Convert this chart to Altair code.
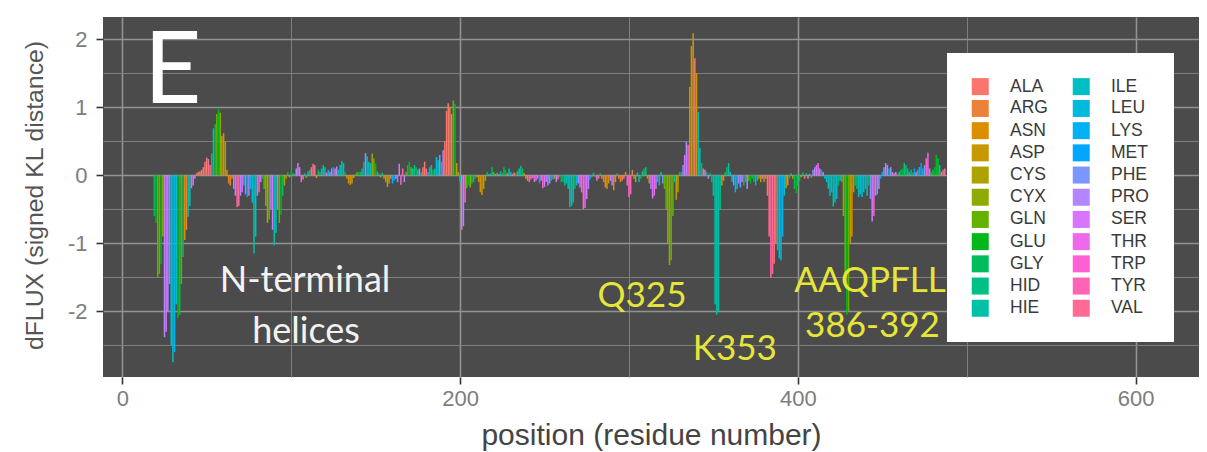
import math
import altair as alt
import pandas as pd

# ---------------- data ----------------
AA = ["ALA", "ARG", "ASN", "ASP", "CYS", "CYX", "GLN", "GLU", "GLY", "HID", "HIE",
      "ILE", "LEU", "LYS", "MET", "PHE", "PRO", "SER", "THR", "TRP", "TYR", "VAL"]

# residues 19-99 (N-terminal helices)
seg_a_start = 19
seg_a_val = [-0.6, -0.7, -1.5, -1.45, -1.3, -0.9, -2.38, -2.3, -2.0, -1.6,
             -2.5, -2.75, -2.6, -1.9, -2.1, -2.05, -1.6, -1.2, -0.95, -0.8,
             -0.61, -0.45, -0.19, -0.15, -0.05, 0.03, 0.05, 0.06, 0.08, 0.12,
             0.2, 0.26, 0.24, 0.15, 0.32, 0.69, 0.75, 0.9, 0.98, 0.92,
             0.58, 0.62, 0.5, 0.08, -0.12, -0.15, -0.05, -0.2, -0.3, -0.47,
             -0.45, -0.3, -0.25, -0.15, -0.28, -0.32, -0.3, -0.2, -0.4, -1.15,
             -0.9, -0.3, -0.25, -0.1, -0.05, -0.2, -0.45, -0.7, -0.65, -0.5,
             -0.8, -1.03, -0.85, -0.5, -0.7, -0.58, -0.3, -0.15, -0.05, 0.04,
             -0.03]
seg_a_aa = ["GLY", "GLU", "GLN", "GLN", "GLU", "CYX", "PRO", "SER", "PRO", "PHE",
            "LEU", "ILE", "LYS", "ILE", "GLU", "GLY", "GLN", "GLY", "ASN", "ARG",
            "HIE", "ILE", "TRP", "SER", "PRO", "ALA", "ARG", "ALA", "VAL", "ALA",
            "ALA", "ALA", "VAL", "ALA", "HID", "HIE", "GLY", "GLN", "GLU", "CYX",
            "ASP", "ASN", "CYS", "ASN", "ASN", "ARG", "ASP", "SER", "PRO", "TYR",
            "VAL", "PRO", "SER", "ILE", "PHE", "MET", "PRO", "LYS", "LEU", "HIE",
            "ILE", "PHE", "TRP", "SER", "GLY", "GLN", "CYX", "CYS", "GLN", "PRO",
            "SER", "HIE", "ILE", "TYR", "GLN", "GLU", "GLY", "ASP", "CYX", "GLY",
            "ASN"]

# residues 100-199
seg_b_start = 100
seg_b_val = [0.06, 0.03, 0.02, 0.1, 0.18, 0.12, -0.1, -0.06, 0.03, -0.04,
             0.06, 0.08, 0.12, 0.17, 0.15, -0.04, 0.08, 0.05, 0.1, 0.15,
             0.12, 0.04, 0.08, 0.05, 0.1, 0.12, 0.1, 0.13, 0.08, 0.15,
             0.21, 0.18, 0.05, -0.05, -0.12, -0.14, -0.12, -0.04, 0.02, 0.05,
             0.05, 0.05, 0.1, 0.2, 0.33, 0.28, 0.2, 0.18, 0.32, 0.25,
             0.17, 0.06, 0.03, -0.03, 0.04, -0.05, -0.1, -0.17, -0.12, -0.05,
             -0.12, -0.08, -0.05, -0.1, 0.17, -0.14, 0.1, -0.1, 0.05, 0.15,
             0.2, 0.12, 0.1, 0.15, 0.12, 0.08, 0.1, 0.05, 0.12, 0.2,
             0.1, 0.05, 0.12, 0.15, 0.08, 0.1, 0.27, 0.22, 0.3, 0.2,
             0.37, 0.5, 0.95, 1.06, 1.0, 0.9, 1.1, 1.05, 0.18, 0.05]
seg_b_aa = ["GLU", "HID", "GLY", "PRO", "SER", "PRO", "TYR", "THR", "HIE", "GLN",
            "LEU", "GLY", "ALA", "ALA", "VAL", "ARG", "GLY", "HID", "HIE", "ILE",
            "HIE", "TRP", "LEU", "PHE", "PRO", "MET", "SER", "PRO", "HID", "ILE",
            "HIE", "ILE", "GLY", "ASN", "ASP", "ASN", "ASP", "ARG", "GLY", "GLN",
            "GLU", "GLY", "HIE", "GLY", "PHE", "LYS", "HIE", "ILE", "CYX", "GLN",
            "GLU", "HID", "GLY", "CYS", "HIE", "ASP", "ASP", "ASN", "ASP", "ARG",
            "LYS", "MET", "SER", "PHE", "SER", "TRP", "TYR", "PRO", "GLN", "GLY",
            "GLU", "GLN", "HIE", "HID", "GLY", "LEU", "SER", "GLY", "ALA", "ALA",
            "VAL", "HIE", "ILE", "HIE", "GLY", "HID", "LEU", "ILE", "PHE", "HIE",
            "PRO", "ALA", "ALA", "ALA", "ARG", "ALA", "GLN", "GLU", "ASP", "CYS"]

# residues 200-299
seg_c_start = 200
seg_c_val = [-0.1, -0.8, -0.75, -0.4, -0.19, -0.15, -0.18, -0.12, -0.1, -0.05,
             -0.03, -0.1, -0.25, -0.29, -0.2, -0.08, 0.05, 0.02, 0.03, 0.12,
             0.05, 0.02, 0.04, 0.02, 0.06, 0.03, 0.12, 0.08, 0.03, 0.1,
             0.05, 0.02, 0.04, 0.03, 0.06, 0.1, 0.14, 0.1, 0.03, -0.05,
             -0.08, -0.1, -0.06, -0.04, -0.1, -0.08, -0.05, -0.12, -0.08, -0.19,
             -0.17, -0.1, -0.15, -0.12, -0.08, -0.06, -0.05, -0.1, -0.06, -0.03,
             -0.1, -0.1, -0.15, -0.12, -0.2, -0.47, -0.45, -0.4, -0.2, -0.15,
             -0.12, -0.18, -0.25, -0.5, -0.48, -0.35, -0.2, -0.06, -0.03, 0.04,
             -0.03, -0.08, -0.05, 0.03, -0.05, -0.1, -0.18, -0.2, -0.12, -0.08,
             -0.15, -0.22, -0.1, 0.03, -0.05, -0.1, -0.08, -0.05, 0.05, -0.15]
seg_c_aa = ["HIE", "SER", "PRO", "TRP", "GLN", "GLU", "CYX", "GLY", "HID", "GLY",
            "ASN", "ASP", "ASN", "ASP", "CYS", "ASN", "GLY", "HID", "ILE", "GLY",
            "GLN", "ASN", "HIE", "SER", "HID", "GLY", "GLY", "GLU", "ALA", "HIE",
            "LEU", "THR", "ASN", "GLY", "ILE", "HIE", "HID", "GLY", "ASP", "ARG",
            "ALA", "TYR", "VAL", "SER", "TRP", "THR", "PHE", "MET", "PRO", "TRP",
            "SER", "PRO", "PHE", "THR", "MET", "LYS", "ASP", "PRO", "TYR", "GLY",
            "GLY", "GLY", "HID", "LEU", "HIE", "HIE", "ILE", "HIE", "GLY", "LEU",
            "PRO", "SER", "THR", "TRP", "THR", "SER", "PRO", "LYS", "GLN", "HID",
            "GLY", "THR", "VAL", "GLY", "ARG", "ASN", "ARG", "ASN", "ASP", "SER",
            "PRO", "ASN", "ARG", "GLY", "ALA", "ASN", "ALA", "VAL", "ASN", "TYR"]

# residues 300-399
seg_d_start = 300
seg_d_val = [-0.32, -0.28, 0.08, -0.05, -0.1, 0.04, -0.1, -0.05, 0.06, 0.1,
             0.12, -0.05, -0.12, -0.2, -0.34, -0.3, -0.2, -0.1, -0.15, 0.05,
             -0.12, -0.2, -0.5, -1.0, -1.32, -1.25, -0.6, -0.1, -0.36, -0.25,
             0.05, 0.05, 0.15, 0.3, 0.49, 0.45, 1.3, 1.9, 2.09, 1.72,
             1.5, 0.93, 0.4, 0.18, 0.1, 0.08, 0.05, -0.05, 0.03, -0.1,
             -0.3, -1.9, -2.05, -2.0, -0.5, -0.15, -0.08, 0.05, 0.12, 0.18,
             0.05, -0.1, -0.15, -0.25, -0.2, -0.12, -0.18, -0.1, -0.15, -0.1,
             -0.2, -0.08, -0.12, -0.05, -0.1, -0.15, -0.08, -0.05, -0.1, -0.05,
             -0.1, -0.05, -0.3, -0.9, -1.51, -1.45, -1.3, -1.0, -1.1, -1.22,
             -1.25, -0.9, -0.3, -0.19, -0.15, -0.05, 0.03, -0.05, -0.2, -0.26]
seg_d_aa = ["TRP", "TYR", "ARG", "ASP", "CYS", "ILE", "LEU", "GLY", "HIE", "GLY",
            "HID", "ASP", "ASN", "PRO", "SER", "THR", "PRO", "ILE", "LEU", "HIE",
            "PHE", "GLN", "GLN", "CYX", "CYX", "GLN", "GLN", "HIE", "ASP", "CYS",
            "GLY", "GLY", "PHE", "SER", "PRO", "TYR", "ASP", "ASN", "ASP", "ALA",
            "ASP", "ILE", "HIE", "GLY", "TYR", "SER", "GLY", "PRO", "HID", "GLY",
            "HIE", "HIE", "HIE", "HIE", "HID", "ASN", "ARG", "GLY", "GLY", "HIE",
            "ILE", "LEU", "PHE", "LYS", "LEU", "PRO", "PHE", "SER", "GLY", "HID",
            "PRO", "GLN", "GLU", "GLY", "GLY", "HIE", "ILE", "ASP", "ASP", "SER",
            "ASP", "VAL", "ALA", "ALA", "TYR", "VAL", "ALA", "ALA", "ILE", "LEU",
            "LEU", "LYS", "ILE", "ASN", "ARG", "GLY", "HID", "CYS", "GLY", "GLU"]

# residues 400-487
seg_e_start = 400
seg_e_val = [-0.15, -0.08, -0.03, 0.04, -0.05, 0.03, -0.05, 0.02, -0.04, 0.08,
             0.12, 0.15, 0.18, 0.1, 0.08, 0.05, -0.05, -0.1, -0.2, -0.3,
             -0.25, -0.46, -0.4, -0.35, -0.15, -0.08, -0.1, -0.6, -1.6, -2.05,
             -2.0, -0.99, -0.9, -0.25, -0.15, -0.2, -0.32, -0.28, -0.32, -0.25,
             -0.2, -0.3, -0.15, -0.35, -0.68, -0.6, -0.3, -0.28, -0.2, -0.05,
             0.05, 0.12, 0.18, 0.15, 0.1, 0.12, 0.05, 0.03, 0.05, 0.02,
             0.05, 0.08, 0.1, 0.18, 0.15, 0.1, 0.05, 0.08, 0.04, 0.1,
             0.05, 0.08, 0.12, 0.18, 0.1, 0.15, 0.25, 0.33, 0.1, 0.05,
             0.08, 0.12, 0.3, 0.25, 0.15, 0.05, 0.08, 0.1]
seg_e_aa = ["HID", "GLY", "ASP", "GLY", "ARG", "HID", "SER", "PRO", "GLN", "PHE",
            "PRO", "SER", "THR", "PRO", "MET", "SER", "ILE", "LEU", "HIE", "ILE",
            "LEU", "HIE", "ILE", "LEU", "GLY", "LYS", "GLN", "CYX", "GLN", "GLU",
            "GLN", "ASP", "ASN", "CYS", "GLY", "HID", "HIE", "ILE", "LEU", "HIE",
            "LYS", "ILE", "GLY", "PHE", "SER", "TRP", "PRO", "PHE", "PRO", "MET",
            "MET", "PHE", "PRO", "SER", "LYS", "PHE", "PRO", "THR", "TRP", "GLY",
            "HIE", "GLY", "GLU", "HID", "GLY", "HIE", "ILE", "HID", "GLY", "MET",
            "SER", "LEU", "LYS", "MET", "LEU", "PHE", "TRP", "THR", "SER", "GLY",
            "GLY", "GLU", "GLU", "GLY", "HIE", "ALA", "ALA", "VAL"]

# annotations (anchor in residue / dFLUX units)
letter_text = ["E"]
letter_x = [12.8]
letter_y = [1.06]
white_text = ["N-terminal", "helices"]
white_x = [108.2, 108.8]
white_y = [-1.72, -2.46]
yellow_text = ["Q325", "K353", "AAQPFLL", "386-392"]
yellow_x = [307.7, 362.7, 442.7, 444.2]
yellow_y = [-1.94, -2.72, -1.716, -2.38]

# ---------------- build table ----------------
pos, val, aa = [], [], []
for start, vals, names in [(seg_a_start, seg_a_val, seg_a_aa),
                           (seg_b_start, seg_b_val, seg_b_aa),
                           (seg_c_start, seg_c_val, seg_c_aa),
                           (seg_d_start, seg_d_val, seg_d_aa),
                           (seg_e_start, seg_e_val, seg_e_aa)]:
    for i, (v, n) in enumerate(zip(vals, names)):
        pos.append(start + i)
        val.append(v)
        aa.append(n)
df = pd.DataFrame({"pos": pos, "dflux": val, "aa": aa})


# ---------------- ggplot2 default hue palette ----------------
def hcl_hex(h, c=100.0, l=65.0):
    hr = math.radians(h)
    u = c * math.cos(hr)
    v = c * math.sin(hr)
    Xn, Yn, Zn = 95.047, 100.0, 108.883
    den = Xn + 15 * Yn + 3 * Zn
    un, vn = 4 * Xn / den, 9 * Yn / den
    Y = Yn * ((l + 16) / 116) ** 3
    up = u / (13 * l) + un
    vp = v / (13 * l) + vn
    X = 9.0 * Y * up / (4 * vp)
    Z = -X / 3 - 5 * Y + 3 * Y / vp
    X, Y, Z = X / 100, Y / 100, Z / 100
    rgb = [3.240479 * X - 1.537150 * Y - 0.498535 * Z,
           -0.969256 * X + 1.875992 * Y + 0.041556 * Z,
           0.055648 * X - 0.204043 * Y + 1.057311 * Z]
    out = []
    for ch in rgb:
        ch = 12.92 * ch if ch <= 0.0031308 else 1.055 * ch ** (1 / 2.4) - 0.055
        out.append(int(round(min(max(ch, 0.0), 1.0) * 255)))
    return "#%02X%02X%02X" % tuple(out)


n = len(AA)
palette = [hcl_hex(15 + 360.0 * i / n) for i in range(n)]

# ---------------- chart ----------------
XDOM = [-11.4, 637.5]
YDOM = [-2.966, 2.328]
xscale = alt.Scale(domain=XDOM, nice=False, zero=False)
yscale = alt.Scale(domain=YDOM, nice=False, zero=False)

major_x = "datum.value % 200 === 0"
major_y = "datum.value % 1 === 0"

xaxis = alt.Axis(
    title="position (residue number)",
    values=[0, 100, 200, 300, 400, 500, 600],
    labelExpr="datum.value % 200 === 0 ? datum.label : ''",
    labelFlush=False,
    domain=False,
    grid=True,
    gridColor={"condition": {"test": major_x, "value": "#929292"}, "value": "#7e7e7e"},
    gridWidth={"condition": {"test": major_x, "value": 1.6}, "value": 1.0},
    tickColor="#333333",
    tickWidth=1.6,
    tickSize=7,
    tickOpacity={"condition": {"test": major_x, "value": 1}, "value": 0},
    labelFont="Liberation Sans",
    labelFontSize=22,
    labelColor="#7d7d7d",
    labelPadding=4,
    titleFont="Liberation Sans",
    titleFontSize=30,
    titleFontWeight="normal",
    titleColor="#444444",
    titleBaseline="top",
    titleY=43,
)

yaxis = alt.Axis(
    title="dFLUX (signed KL distance)",
    values=[-2.5, -2, -1.5, -1, -0.5, 0, 0.5, 1, 1.5, 2],
    labelExpr="datum.value % 1 === 0 ? (datum.value < 0 ? '-' + abs(datum.value) : '' + datum.value) : ''",
    labelFlush=False,
    domain=False,
    grid=True,
    gridColor={"condition": {"test": major_y, "value": "#929292"}, "value": "#7e7e7e"},
    gridWidth={"condition": {"test": major_y, "value": 1.6}, "value": 1.0},
    tickColor="#333333",
    tickWidth=1.6,
    tickSize=7,
    tickOpacity={"condition": {"test": major_y, "value": 1}, "value": 0},
    labelFont="Liberation Sans",
    labelFontSize=22,
    labelColor="#7d7d7d",
    labelPadding=9,
    titleFont="Liberation Sans",
    titleFontSize=24.8,
    titleFontWeight="normal",
    titleColor="#555555",
    titleAngle=270,
    titleAlign="center",
    titleBaseline="middle",
    titleX=-68,
    titleY=178,
)

legend = alt.Legend(
    title=None,
    orient="none",
    legendX=844,
    legendY=36,
    columns=2,
    symbolType="square",
    symbolSize=289,
    symbolStrokeWidth=0,
    symbolOpacity=1,
    labelFont="Liberation Sans",
    labelFontSize=17.5,
    labelColor="#3a3a3a",
    labelOffset=21,
    padding=24.5,
    rowPadding=3.2,
    columnPadding=24,
    fillColor="#ffffff",
)

bars = alt.Chart(df).transform_calculate(
    x0="datum.pos - 0.45", x1="datum.pos + 0.45", zero="0"
).mark_rect(strokeWidth=0).encode(
    x=alt.X("x0:Q", scale=xscale, axis=xaxis),
    x2="x1:Q",
    y=alt.Y("dflux:Q", scale=yscale, axis=yaxis),
    y2="zero:Q",
    color=alt.Color("aa:N", scale=alt.Scale(domain=AA, range=palette), legend=legend),
)

letter_df = pd.DataFrame({"t": letter_text, "x": letter_x, "y": letter_y})
white_df = pd.DataFrame({"t": white_text, "x": white_x, "y": white_y})
yellow_df = pd.DataFrame({"t": yellow_text, "x": yellow_x, "y": yellow_y})

letter = alt.Chart(letter_df).mark_text(
    font="Lato", fontSize=100, color="#ffffff", align="left", baseline="alphabetic"
).encode(x=alt.X("x:Q", scale=xscale, axis=xaxis), y=alt.Y("y:Q", scale=yscale, axis=yaxis), text="t:N")

white = alt.Chart(white_df).mark_text(
    font="Lato", fontSize=36, color="#f2f2f2", align="center", baseline="alphabetic"
).encode(x=alt.X("x:Q", scale=xscale, axis=xaxis), y=alt.Y("y:Q", scale=yscale, axis=yaxis), text="t:N")

yellow = alt.Chart(yellow_df).mark_text(
    font="Lato", fontSize=35, color="#E6E63A", align="center", baseline="alphabetic"
).encode(x=alt.X("x:Q", scale=xscale, axis=xaxis), y=alt.Y("y:Q", scale=yscale, axis=yaxis), text="t:N")

chart = alt.layer(bars, letter, white, yellow).properties(
    width=1096,
    height=360,
    padding={"left": 95, "top": 9, "right": 0, "bottom": 75},
    autosize=alt.AutoSizeParams(type="none"),
    background="#ffffff",
).configure_view(fill="#4b4b4b", strokeWidth=0)

chart.save("out.html", embed_options={"renderer": "svg", "actions": False})
